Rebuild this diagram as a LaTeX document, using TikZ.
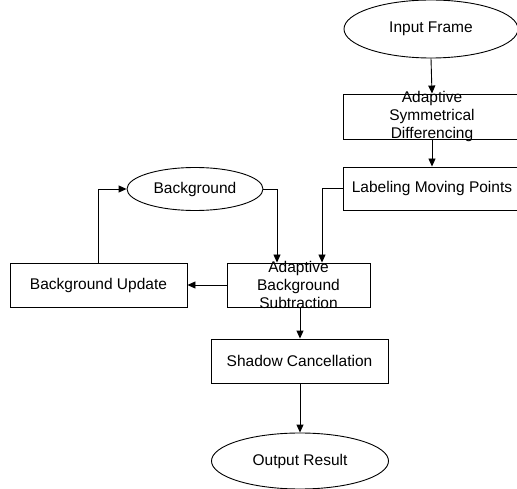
\documentclass[tikz,border=0pt]{standalone}
\usepackage{fontspec}
\setmainfont{Liberation Sans}
\usetikzlibrary{shapes.geometric,arrows.meta,calc}
\begin{document}
\begin{tikzpicture}[x=1pt,y=-1pt,
  every node/.style={font=\fontsize{15.5}{18}\selectfont},
  ln/.style={draw=black,line width=0.9pt},
  arr/.style={ln,-{Triangle[width=7pt,length=8pt]}},
  boxnode/.style={ln,rectangle,inner sep=0pt,fill=white},
  ovalnode/.style={ln,ellipse,inner sep=0pt,fill=white},
  multi/.style={label={[align=center,font=\fontsize{15.5}{18}\selectfont]center:#1}}]
\useasboundingbox (0,0) rectangle (517,489);
\clip (0,0) rectangle (517,489);
% nodes
\node[ovalnode,minimum width=174pt,minimum height=58pt] (input) at (431,29) {Input Frame};
\node[boxnode,minimum width=178pt,minimum height=45pt,multi={Adaptive\\Symmetrical\\Differencing}] (asd) at (432,116.5) {};
\node[boxnode,minimum width=178pt,minimum height=43pt] (lmp) at (432,188.5) {Labeling Moving Points};
\node[ovalnode,minimum width=136pt,minimum height=43pt] (bg) at (195,189) {Background};
\node[boxnode,minimum width=177pt,minimum height=44pt] (bu) at (98.5,285) {Background Update};
\node[boxnode,minimum width=143pt,minimum height=44pt,multi={Adaptive\\Background\\Subtraction}] (asub) at (298.5,285) {};
\node[boxnode,minimum width=177pt,minimum height=44pt] (sc) at (299.5,361) {Shadow Cancellation};
\node[ovalnode,minimum width=177pt,minimum height=56pt] (out) at (300,461) {Output Result};
\coordinate (inA) at ($(asub.north)+(-21.5,0)$);
\coordinate (inB) at ($(asub.north)+(23.5,0)$);
% connectors
\draw[arr] (input.south) -- (asd.north);
\draw[arr] (asd.south) -- (lmp.north);
\draw[arr] (lmp.west) -| (inB);
\draw[arr] (bg.east) -| (inA);
\draw[arr] (asub.west) -- (bu.east);
\draw[arr] (bu.north) |- (bg.west);
\draw[arr] ($(asub.south)+(1.5,0)$) -- ($(sc.north)+(0.5,0)$);
\draw[arr] ($(sc.south)+(0.5,0)$) -- (out.north);
\end{tikzpicture}
\end{document}
